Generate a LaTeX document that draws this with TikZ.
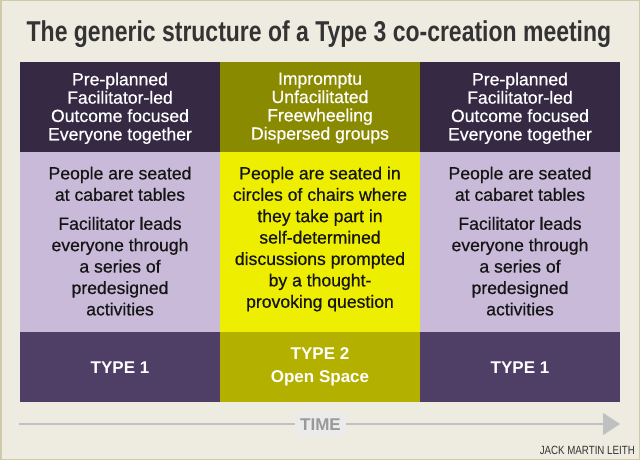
\documentclass[tikz,border=0pt]{standalone}
\usepackage{fontspec}
\setmainfont{Liberation Sans}
\newfontfamily\cellfont[FakeBold=0.6]{Liberation Sans}
\usetikzlibrary{arrows.meta}
\definecolor{bg}{HTML}{EEEBE0}
\definecolor{frame}{HTML}{D0C9AA}
\definecolor{titlecol}{HTML}{333333}
\definecolor{darktop}{HTML}{352944}
\definecolor{olivetop}{HTML}{8A8A00}
\definecolor{lavender}{HTML}{C8BAD8}
\definecolor{yellowmid}{HTML}{EEEE00}
\definecolor{purplebot}{HTML}{4F3E66}
\definecolor{olivebot}{HTML}{B3B000}
\definecolor{arrowcol}{HTML}{C0C0C0}
\definecolor{timefill}{HTML}{EBEBEB}
\definecolor{timetext}{HTML}{999999}
\definecolor{inkmid}{HTML}{151515}
\begin{document}
\begin{tikzpicture}[x=1pt,y=-1pt,
  cell/.style={draw=none, inner sep=0pt, outer sep=0pt, minimum width=200pt, anchor=north west},
  toptxt/.style={inner sep=0pt, align=center, anchor=north, text=white, font=\cellfont\fontsize{17.6}{18.3}\selectfont},
  midtxt/.style={inner sep=0pt, align=center, anchor=north, text=inkmid, font=\cellfont\fontsize{17.6}{21.4}\selectfont},
  bottxt/.style={inner sep=0pt, align=center, text=white, font=\fontsize{17}{23}\selectfont\bfseries},
  timeline/.style={draw=arrowcol, line width=1.6pt, -{Triangle[length=17pt,width=22pt]}}
]
\fill[bg] (0,0) rectangle (640,460);
\draw[frame, line width=1.5pt] (0.75,0.75) rectangle (639.25,459.25);
\useasboundingbox (0,0) rectangle (640,460);

% title
\node[anchor=base west, inner sep=0pt, text=titlecol] (title) at (26.5,41.3)
  {\resizebox{584.5pt}{20.8pt}{\bfseries The generic structure of a Type 3 co-creation meeting}};

% grid cells
\node[cell, fill=darktop,  minimum height=90pt]  (c11) at (20,62) {};
\node[cell, fill=olivetop, minimum height=90pt]  (c12) at (220,62) {};
\node[cell, fill=darktop,  minimum height=90pt]  (c13) at (420,62) {};
\node[cell, fill=lavender, minimum height=180pt] (c21) at (20,152) {};
\node[cell, fill=yellowmid,minimum height=180pt] (c22) at (220,152) {};
\node[cell, fill=lavender, minimum height=180pt] (c23) at (420,152) {};
\node[cell, fill=purplebot,minimum height=70pt]  (c31) at (20,332) {};
\node[cell, fill=olivebot, minimum height=70pt]  (c32) at (220,332) {};
\node[cell, fill=purplebot,minimum height=70pt]  (c33) at (420,332) {};

% top row texts
\node[toptxt] (t11) at (120,72.4) {Pre-planned\\Facilitator-led\\Outcome focused\\Everyone together};
\node[toptxt] (t12) at (320,72.4) {Impromptu\\Unfacilitated\\Freewheeling\\Dispersed groups};
\node[toptxt] (t13) at (520,72.4) {Pre-planned\\Facilitator-led\\Outcome focused\\Everyone together};

% middle row texts
\node[midtxt] (t21) at (120,166.4) {People are seated\\at cabaret tables\\[7.6pt]Facilitator leads\\everyone through\\a series of\\predesigned\\activities};
\node[midtxt] (t22) at (320,166.4) {People are seated in\\circles of chairs where\\they take part in\\self-determined\\discussions prompted\\by a thought-\\provoking question};
\node[midtxt] (t23) at (520,166.4) {People are seated\\at cabaret tables\\[7.6pt]Facilitator leads\\everyone through\\a series of\\predesigned\\activities};

% bottom row texts
\node[bottxt, anchor=base] (t31) at (120,373) {TYPE 1};
\node[bottxt, anchor=north] (t32) at (320,347.8) {TYPE 2\\Open Space};
\node[bottxt, anchor=base] (t33) at (520,373) {TYPE 1};

% time arrow
\coordinate (tstart) at (19,424);
\coordinate (tend) at (620,424);
\draw[timeline] (tstart) -- (tend);
\node[fill=timefill, inner sep=0pt, minimum width=51pt, minimum height=24pt, text=timetext,
  font=\fontsize{17}{17}\selectfont\bfseries] (time) at (320.5,425) {TIME};

% credit
\node[anchor=base east, inner sep=0pt, text=titlecol] (credit) at (635,454)
  {\resizebox{95pt}{8.3pt}{JACK MARTIN LEITH}};
\end{tikzpicture}
\end{document}
